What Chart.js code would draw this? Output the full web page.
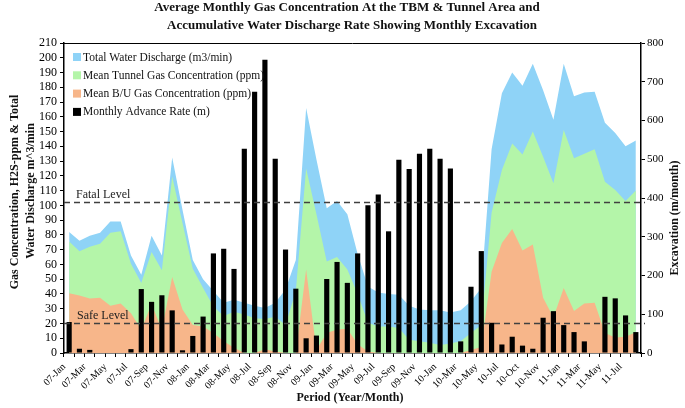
<!DOCTYPE html>
<html>
<head>
<meta charset="utf-8">
<script src="https://cdn.jsdelivr.net/npm/chart.js@4.4.1/dist/chart.umd.min.js"></script>
<style>
  html, body { margin: 0; padding: 0; background: #fff; }
  #wrap { width: 685px; height: 408px; }
</style>
</head>
<body>
<div id="wrap"><canvas id="gasChart" width="685" height="408"></canvas></div>
<script>
// valeurs (une par mois)
const months = [
  '07-Jan','07-Feb','07-Mar','07-Apr','07-May','07-Jun','07-Jul','07-Aug','07-Sep','07-Oct','07-Nov','07-Dec',
  '08-Jan','08-Feb','08-Mar','08-Apr','08-May','08-Jun','08-Jul','08-Aug','08-Sep','08-Oct','08-Nov','08-Dec',
  '09-Jan','09-Feb','09-Mar','09-Apr','09-May','09-Jun','09-Jul','09-Aug','09-Sep','09-Oct','09-Nov','09-Dec',
  '10-Jan','10-Feb','10-Mar','10-Apr','10-May','10-Jun','10-Jul','10-Sep','10-Oct','10-Oct','10-Nov','10-Dec',
  '11-Jan','11-Feb','11-Mar','11-Apr','11-May','11-Jun','11-Jul','11-Aug'
];
const waterDischarge = [
  82, 76, 79.5, 81.5, 89, 89, 66, 53, 79.5, 66, 132.5, 97,
  63, 50, 42, 34, 36, 34, 32, 30.5, 34, 43, 63, 166,
  131, 98, 103, 94, 67, 45, 41, 40, 39.5, 32, 29.5, 29,
  29, 27.5, 29, 35, 44, 138, 176, 190, 181, 196, 178, 158,
  196, 174, 176.5, 177, 156, 149, 140, 144
];
const tunnelGas = [
  75.5, 69, 72, 74, 81.5, 82.5, 60.5, 47.5, 68.5, 56, 119.5, 88,
  57, 44, 31.5, 25, 28, 26, 23.5, 23, 24.5, 19, 42, 125,
  94, 62, 65, 56.5, 40, 20.5, 18, 18, 17, 9, 8, 7,
  5.5, 6.5, 8, 13.5, 19, 95, 124, 142, 134.5, 150, 133, 115,
  151, 132, 135, 138, 116, 110.5, 103, 110
];
const buGas = [
  40.5, 39, 37, 37.5, 32, 33.5, 27, 16, 33, 16, 51.5, 29.5,
  19, 18, 13.5, 8, 3.5, 0, 0, 2.5, 1, 0, 0, 56.5,
  2, 13.5, 16, 16.5, 6, 1, 0, 0, 0, 0, 0, 0,
  0, 0, 0, 2, 4, 55, 74.5, 84, 69.5, 73.5, 37.5, 24,
  44, 28.5, 33.5, 34, 13.5, 10.5, 11, 14
];
const advanceRate = [
  80, 11, 8, 0, 0, 0, 10, 165, 132, 149, 110, 7,
  44, 94, 257, 269, 217, 527, 674, 757, 501, 267, 166, 38,
  45, 191, 235, 181, 257, 381, 409, 314, 499, 475, 514, 527,
  501, 476, 30, 171, 263, 78, 22, 42, 19, 11, 91, 108,
  72, 54, 30, 0, 145, 141, 97, 54
];

const gasAxis = { min: 0, max: 210, step: 10 };
const excavationAxis = { min: 0, max: 800, step: 100 };
const FATAL_LEVEL = 102;
const SAFE_LEVEL = 20;

const serif = '"Liberation Serif", "Times New Roman", serif';
const BLUE = '#8fd3f7';
const GREEN = '#b4f5a9';
const ORANGE = '#f7b68a';

// titres, légende interne et niveaux de référence
const decorPlugin = {
  id: 'decor',
  afterDatasetsDraw(chart) {
    const { ctx, chartArea: a, scales } = chart;
    ctx.save();
    ctx.strokeStyle = '#404040';
    ctx.lineWidth = 1.5;
    ctx.setLineDash([6, 4]);
    [FATAL_LEVEL, SAFE_LEVEL].forEach(v => {
      const y = Math.round(scales.y.getPixelForValue(v)) + 0.5;
      ctx.beginPath();
      ctx.moveTo(a.left, y);
      ctx.lineTo(a.right + 4, y);
      ctx.stroke();
    });
    ctx.setLineDash([]);
    ctx.fillStyle = '#222';
    ctx.font = '12px ' + serif;
    ctx.textAlign = 'left';
    ctx.textBaseline = 'alphabetic';
    ctx.fillText('Fatal Level', 76, scales.y.getPixelForValue(FATAL_LEVEL) - 4);
    ctx.fillText('Safe Level', 77, scales.y.getPixelForValue(SAFE_LEVEL) - 4);

    // cadre du haut
    ctx.strokeStyle = '#000';
    ctx.lineWidth = 1;
    ctx.beginPath();
    ctx.moveTo(a.left, a.top + 0.5);
    ctx.lineTo(a.right, a.top + 0.5);
    ctx.stroke();

    // légende
    const legendOrder = [3, 2, 1, 0];
    ctx.font = '11.5px ' + serif;
    ctx.textBaseline = 'middle';
    legendOrder.forEach((di, k) => {
      const ds = chart.data.datasets[di];
      const cy = 57 + k * 18.3;
      ctx.fillStyle = ds.backgroundColor;
      ctx.fillRect(73, cy - 4, 8, 8);
      ctx.fillStyle = '#111';
      ctx.fillText(ds.label, 83, cy + 0.5);
    });
    ctx.restore();
  },
  afterDraw(chart) {
    const { ctx } = chart;
    ctx.save();
    ctx.fillStyle = '#111';
    ctx.textAlign = 'center';
    ctx.textBaseline = 'middle';
    ctx.font = 'bold 13px ' + serif;
    ctx.fillText('Average Monthly Gas Concentration At the TBM & Tunnel Area and', 347, 8);
    ctx.fillText('Accumulative Water Discharge Rate Showing Monthly Excavation', 352, 26);

    ctx.font = 'bold 12px ' + serif;
    ctx.fillText('Period (Year/Month)', 350, 398);

    ctx.save();
    ctx.translate(15, 192);
    ctx.rotate(-Math.PI / 2);
    ctx.fillText('Gas Concentration, H2S-ppm & Total', 0, 0);
    ctx.restore();
    ctx.save();
    ctx.translate(31, 191);
    ctx.rotate(-Math.PI / 2);
    ctx.fillText('Water Discharge m^3/min', 0, 0);
    ctx.restore();
    ctx.save();
    ctx.translate(675, 218);
    ctx.rotate(-Math.PI / 2);
    ctx.fillText('Excavation (m/month)', 0, 0);
    ctx.restore();
    ctx.restore();
  }
};

new Chart(document.getElementById('gasChart').getContext('2d'), {
  type: 'bar',
  data: {
    labels: months,
    datasets: [
      {
        type: 'bar',
        label: 'Monthly Advance Rate (m)',
        data: advanceRate,
        yAxisID: 'y1',
        backgroundColor: '#000',
        barPercentage: 0.5,
        categoryPercentage: 1,
        order: 0
      },
      {
        type: 'line',
        label: 'Mean B/U Gas Concentration (ppm)',
        data: buGas,
        yAxisID: 'y',
        backgroundColor: ORANGE,
        borderColor: 'rgba(0,0,0,0)',
        borderWidth: 0,
        pointRadius: 0,
        tension: 0,
        fill: 'origin',
        order: 1
      },
      {
        type: 'line',
        label: 'Mean Tunnel Gas Concentration (ppm)',
        data: tunnelGas,
        yAxisID: 'y',
        backgroundColor: GREEN,
        borderColor: 'rgba(0,0,0,0)',
        borderWidth: 0,
        pointRadius: 0,
        tension: 0,
        fill: 'origin',
        order: 2
      },
      {
        type: 'line',
        label: 'Total Water Discharge (m3/min)',
        data: waterDischarge,
        yAxisID: 'y',
        backgroundColor: BLUE,
        borderColor: 'rgba(0,0,0,0)',
        borderWidth: 0,
        pointRadius: 0,
        tension: 0,
        fill: 'origin',
        order: 3
      }
    ]
  },
  options: {
    responsive: false,
    animation: false,
    layout: { padding: { top: 43, left: 0, right: 0, bottom: 0 } },
    plugins: {
      legend: { display: false },
      title: { display: false },
      tooltip: { enabled: false }
    },
    scales: {
      x: {
        offset: true,
        grid: { drawOnChartArea: false, tickLength: 4, color: '#000', offset: true },
        border: { color: '#000', width: 1.5 },
        ticks: {
          autoSkip: false,
          maxRotation: 45,
          minRotation: 45,
          color: '#000',
          padding: 4,
          labelOffset: -5,
          font: { family: serif, size: 10 },
          callback: (v, i) => (i % 2 === 0 ? months[i] : '')
        },
        afterFit: s => { s.height = 55; }
      },
      y: {
        position: 'left',
        min: gasAxis.min,
        max: gasAxis.max,
        ticks: { stepSize: gasAxis.step, autoSkip: false, color: '#000', padding: 3, font: { family: serif, size: 12 } },
        grid: { drawOnChartArea: false, tickLength: 4, color: '#000' },
        border: { color: '#000', width: 1.5 },
        afterFit: s => { s.width = 64; }
      },
      y1: {
        position: 'right',
        min: excavationAxis.min,
        max: excavationAxis.max,
        ticks: { stepSize: excavationAxis.step, autoSkip: false, color: '#000', padding: 2, font: { family: serif, size: 11 } },
        grid: { drawOnChartArea: false, tickLength: 4, color: '#000' },
        border: { color: '#000', width: 1.5 },
        afterFit: s => { s.width = 44; }
      }
    }
  },
  plugins: [decorPlugin]
});
</script>
</body>
</html>
